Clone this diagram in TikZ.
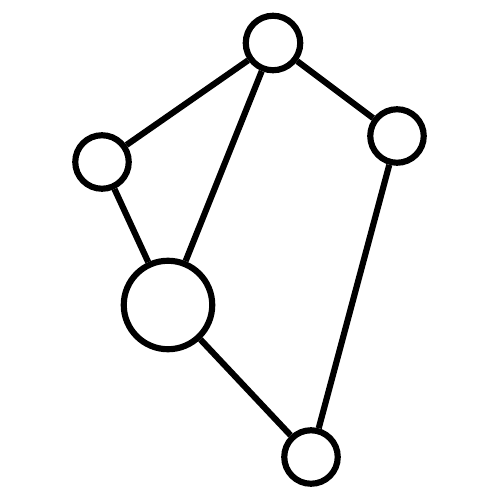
\documentclass[tikz,border=0pt]{standalone}
\begin{document}
\begin{tikzpicture}[x=0.02cm,y=-0.02cm,
  vtx/.style={circle,draw=black,fill=white,line width=3.5pt,inner sep=0pt,minimum size=1.07cm},
  bigvtx/.style={vtx,minimum size=1.77cm},
  edge/.style={line width=3.5pt,black}]
\useasboundingbox[fill=white] (0,0) rectangle (500,500);
\node[vtx,minimum size=1.09cm] (top) at (273,43) {};
\node[vtx] (right) at (397,136) {};
\node[vtx] (left) at (102,162) {};
\node[bigvtx] (big) at (168,305) {};
\node[vtx] (bottom) at (311,457) {};
\draw[edge] (top) -- (left);
\draw[edge] (top) -- (right);
\draw[edge] (top) -- (big);
\draw[edge] (left) -- (big);
\draw[edge] (right) -- (bottom);
\draw[edge] (big) -- (bottom);
\end{tikzpicture}
\end{document}
